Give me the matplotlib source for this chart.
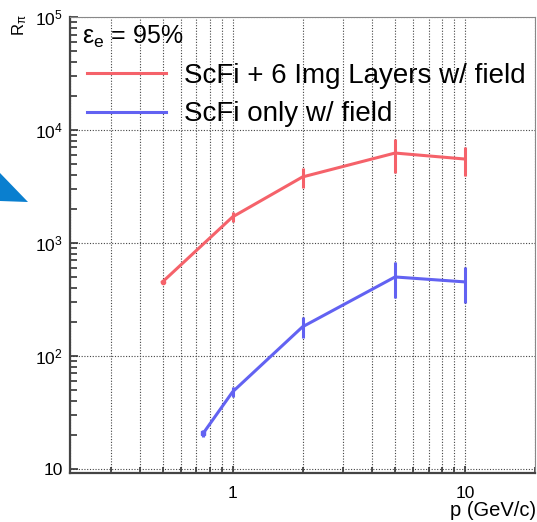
import numpy as np
import matplotlib
matplotlib.use("Agg")
import matplotlib.pyplot as plt
from matplotlib.patches import Polygon
from matplotlib.ticker import LogLocator, NullFormatter

plt.rcParams['font.family'] = ['Liberation Sans', 'DejaVu Sans']
plt.rcParams['mathtext.fontset'] = 'custom'
plt.rcParams['mathtext.rm'] = 'Liberation Sans'
plt.rcParams['mathtext.it'] = 'Liberation Sans'

# data
p_red = [0.5, 1, 2, 5, 10]
r_red = [452, 1700, 3840, 6250, 5530]
err_red = [20, 180, 780, 2100, 1600]

p_blue = [0.75, 1, 2, 5, 10]
r_blue = [20.8, 48, 181, 500, 452]
err_blue = [1.5, 5, 38, 175, 160]

label_red = "ScFi + 6 Img Layers w/ field"
label_blue = "ScFi only w/ field"

c_red = '#f5626a'
c_blue = '#6262f2'

fig = plt.figure(figsize=(5.37, 5.22), dpi=100)
ax = fig.add_axes([70/537, 1-473/522, 465/537, 456/522])

ax.set_xscale('log')
ax.set_yscale('log')
ax.set_xlim(0.2, 20)
ax.set_ylim(9.2, 1e5)

l1, = ax.plot(p_red, r_red, color=c_red, lw=2.2)
ax.errorbar(p_red, r_red, yerr=err_red, fmt='none', ecolor=c_red, elinewidth=2.2, capsize=0)
l2, = ax.plot(p_blue, r_blue, color=c_blue, lw=2.2)
ax.errorbar(p_blue, r_blue, yerr=err_blue, fmt='none', ecolor=c_blue, elinewidth=2.2, capsize=0)
ax.plot(p_red[:1], r_red[:1], 'o', color=c_red, ms=3)
ax.plot(p_blue[:1], r_blue[:1], 's', color=c_blue, ms=3)

# grid: vertical at every tick, horizontal only decades
ax.xaxis.set_minor_locator(LogLocator(base=10, subs=np.arange(2, 10)))
ax.xaxis.set_minor_formatter(NullFormatter())
ax.yaxis.set_minor_locator(LogLocator(base=10, subs=np.arange(2, 10)))
ax.yaxis.set_minor_formatter(NullFormatter())
grid_kw = dict(color='#444444', lw=0.8, linestyle=(0, (1, 1.5)))
ax.grid(True, which='both', axis='x', **grid_kw)
ax.grid(True, which='major', axis='y', **grid_kw)
ax.set_axisbelow(True)

ax.set_xticks([1, 10])
ax.set_xticklabels(['1', '10'])
ax.set_yticks([10, 100, 1000, 1e4, 1e5])
ax.set_yticklabels(['10', r'$10^2$', r'$10^3$', r'$10^4$', r'$10^5$'])

ax.tick_params(which='both', direction='in', top=False, right=False, colors='#333333', labelcolor='black', labelsize=12.5)
ax.tick_params(axis='y', which='major', length=6, width=1.2, pad=5)
ax.tick_params(axis='y', which='minor', length=5, width=1.2)
ax.tick_params(axis='x', which='major', length=5, width=1.2, pad=9)
ax.tick_params(axis='x', which='minor', length=4.5, width=1.2)

for s in ['left', 'bottom']:
    ax.spines[s].set_color('#444444')
    ax.spines[s].set_linewidth(1.6)
for s in ['top', 'right']:
    ax.spines[s].set_color('#888888')
    ax.spines[s].set_linewidth(0.8)

fig.text(536/537, 1-510/522, 'p (GeV/c)', ha='right', va='center', fontsize=14.5)
fig.text(20/537, 1-14/522, r'$\mathrm{R_{\pi}}$', rotation=90, ha='center', va='top', fontsize=12)

ax.text(12/465, 1-(44-17)/456, r'$\mathrm{ε_e}$ = 95%', transform=ax.transAxes, fontsize=18, va='baseline')
ax.legend([l1, l2], [label_red, label_blue], loc='upper left', bbox_to_anchor=(17/465, 1-(63-17)/456),
          frameon=False, fontsize=20, handlelength=2.85, handletextpad=0.65, borderpad=0, borderaxespad=0,
          labelspacing=0.45)

# decorative arrow fragment at the left edge
fig.patches.append(Polygon([(0, 1-173/522), (28/537, 1-202/522), (0, 1-201/522)], closed=True,
                           transform=fig.transFigure, facecolor='#0a7fcf', edgecolor='none'))

fig.savefig('out.png', dpi=100)
